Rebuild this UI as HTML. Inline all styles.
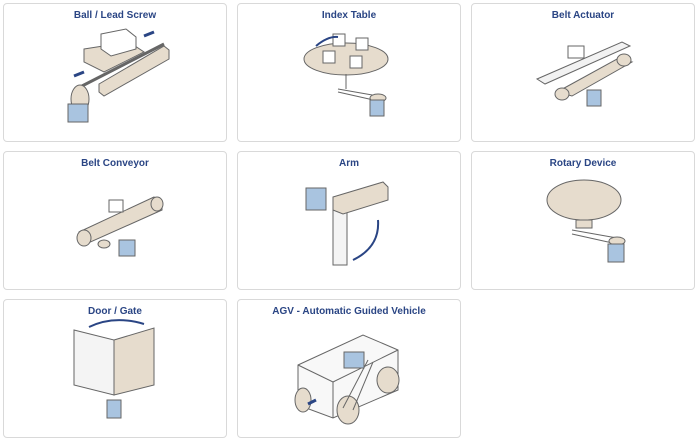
<!DOCTYPE html>
<html><head><meta charset="utf-8"><style>
body{margin:0;width:700px;height:443px;background:#fff;position:relative;overflow:hidden;font-family:"Liberation Sans",sans-serif}
.c{position:absolute;width:224px;height:139px;border:1px solid #d9d9d9;border-radius:4px;box-sizing:border-box;background:#fff}
.t{position:absolute;top:6px;left:0;right:0;text-align:center;font-weight:bold;font-size:10px;color:#2a4584}
svg{position:absolute;left:0;top:0}
</style></head><body>
<div class="c" style="left:3px;top:3px"><div class="t">Ball / Lead Screw</div>
<svg width="224" height="139"><g stroke="#666" stroke-width="1">
<polygon points="95,80 160,42 165,46 165,55 100,92 95,88" fill="#e6dccd"/>
<line x1="78" y1="82" x2="160" y2="40" stroke="#666" stroke-width="3"/>
<polygon points="80,45 125,38 140,48 100,68 80,58" fill="#e6dccd"/>
<polygon points="97,30 122,25 132,33 132,45 107,52 97,45" fill="#fff"/>
<ellipse cx="76" cy="95" rx="9" ry="14" fill="#e6dccd"/>
<rect x="64" y="100" width="20" height="18" fill="#a9c4e0"/>
</g><path d="M140 32l10-4" stroke="#2a4584" stroke-width="3"/><path d="M80 68l-10 4" stroke="#2a4584" stroke-width="3"/></svg></div>
<div class="c" style="left:237px;top:3px"><div class="t">Index Table</div>
<svg width="224" height="139"><g stroke="#666" stroke-width="1">
<ellipse cx="108" cy="55" rx="42" ry="16" fill="#e6dccd"/>
<rect x="95" y="30" width="12" height="12" fill="#fff"/><rect x="118" y="34" width="12" height="12" fill="#fff"/><rect x="85" y="47" width="12" height="12" fill="#fff"/><rect x="112" y="52" width="12" height="12" fill="#fff"/>
<line x1="108" y1="70" x2="108" y2="85"/>
<path d="M100 85 L140 92 M100 88 L140 97" fill="none"/>
<ellipse cx="140" cy="94" rx="8" ry="4" fill="#e6dccd"/>
<rect x="132" y="96" width="14" height="16" fill="#a9c4e0"/>
</g><path d="M78 42 Q90 32 100 33" stroke="#2a4584" stroke-width="2" fill="none"/></svg></div>
<div class="c" style="left:471px;top:3px"><div class="t">Belt Actuator</div>
<svg width="224" height="139"><g stroke="#666" stroke-width="1">
<polygon points="65,75 150,38 158,42 73,80" fill="#f2f2f2"/>
<polygon points="85,88 145,55 160,58 100,92" fill="#e6dccd"/>
<ellipse cx="90" cy="90" rx="7" ry="6" fill="#e6dccd"/><ellipse cx="152" cy="56" rx="7" ry="6" fill="#e6dccd"/>
<rect x="96" y="42" width="16" height="12" fill="#fff"/>
<rect x="115" y="86" width="14" height="16" fill="#a9c4e0"/>
</g></svg></div>
<div class="c" style="left:3px;top:151px"><div class="t">Belt Conveyor</div>
<svg width="224" height="139"><g stroke="#666" stroke-width="1">
<polygon points="75,80 150,45 158,52 158,58 82,92 75,88" fill="#e6dccd"/>
<ellipse cx="80" cy="86" rx="7" ry="8" fill="#e6dccd"/><ellipse cx="153" cy="52" rx="6" ry="7" fill="#e6dccd"/>
<rect x="105" y="48" width="14" height="12" fill="#fff"/>
<ellipse cx="100" cy="92" rx="6" ry="4" fill="#e6dccd"/>
<rect x="115" y="88" width="16" height="16" fill="#a9c4e0"/>
</g></svg></div>
<div class="c" style="left:237px;top:151px"><div class="t">Arm</div>
<svg width="224" height="139"><g stroke="#666" stroke-width="1">
<rect x="95" y="55" width="14" height="58" fill="#f4f4f4"/>
<polygon points="95,45 145,30 150,35 150,48 105,62 95,58" fill="#e6dccd"/>
<rect x="68" y="36" width="20" height="22" fill="#a9c4e0"/>
</g><path d="M140 68 Q142 95 115 108" stroke="#2a4584" stroke-width="2" fill="none"/></svg></div>
<div class="c" style="left:471px;top:151px"><div class="t">Rotary Device</div>
<svg width="224" height="139"><g stroke="#666" stroke-width="1">
<ellipse cx="112" cy="48" rx="37" ry="20" fill="#e6dccd"/>
<rect x="104" y="68" width="16" height="8" fill="#e6dccd"/>
<path d="M100 78 L145 86 M100 82 L145 92" fill="none"/>
<ellipse cx="145" cy="89" rx="8" ry="4" fill="#e6dccd"/>
<rect x="136" y="92" width="16" height="18" fill="#a9c4e0"/>
</g></svg></div>
<div class="c" style="left:3px;top:299px"><div class="t">Door / Gate</div>
<svg width="224" height="139"><g stroke="#666" stroke-width="1">
<polygon points="70,30 110,40 110,95 70,85" fill="#f4f4f4"/>
<polygon points="110,40 150,28 150,85 110,95" fill="#e6dccd"/>
<rect x="103" y="100" width="14" height="18" fill="#a9c4e0"/>
</g><path d="M85 27 Q110 15 140 24" stroke="#2a4584" stroke-width="2" fill="none"/></svg></div>
<div class="c" style="left:237px;top:299px"><div class="t">AGV - Automatic Guided Vehicle</div>
<svg width="224" height="139"><g stroke="#666" stroke-width="1">
<polygon points="60,65 125,35 160,50 160,90 95,118 60,105" fill="#f8f8f8"/>
<line x1="60" y1="65" x2="95" y2="82"/><line x1="95" y1="82" x2="160" y2="50"/><line x1="95" y1="82" x2="95" y2="118"/>
<ellipse cx="65" cy="100" rx="8" ry="12" fill="#e6dccd"/>
<ellipse cx="110" cy="110" rx="11" ry="14" fill="#e6dccd"/>
<ellipse cx="150" cy="80" rx="11" ry="13" fill="#e6dccd"/>
<line x1="105" y1="108" x2="130" y2="60"/><line x1="115" y1="110" x2="135" y2="62"/>
<rect x="106" y="52" width="20" height="16" fill="#a9c4e0"/>
</g><path d="M78 100l-8 4" stroke="#2a4584" stroke-width="3"/></svg></div>
</body></html>
